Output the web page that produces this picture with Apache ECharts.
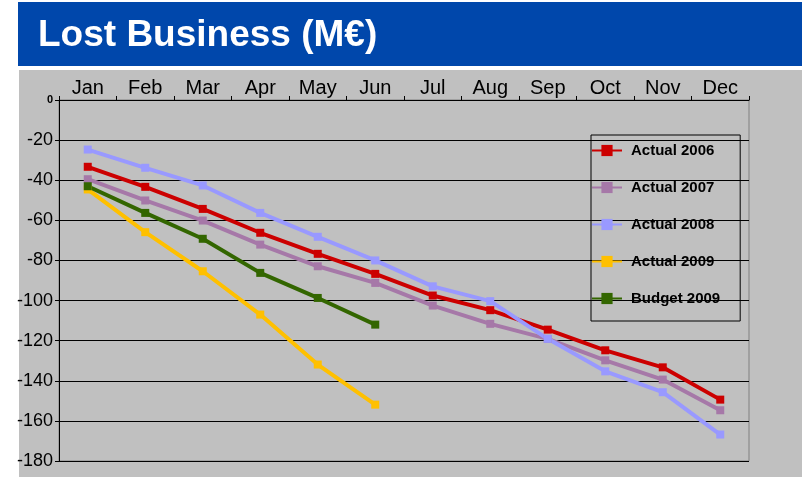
<!DOCTYPE html>
<html>
<head>
<meta charset="utf-8">
<script src="https://cdn.jsdelivr.net/npm/echarts@6/dist/echarts.min.js"></script>
<style>
  html, body { margin: 0; padding: 0; background: #fff; }
  #chart { width: 802px; height: 477px; }
</style>
</head>
<body>
<div id="chart"></div>
<script>
// categories
const months = ["Jan", "Feb", "Mar", "Apr", "May", "Jun", "Jul", "Aug", "Sep", "Oct", "Nov", "Dec"];

// series values (M€)
const actual2006 = [-33.3, -43.3, -54.3, -66.2, -76.7, -86.7, -97.5, -104.8, -114.5, -124.8, -133.3, -149.4];
const actual2007 = [-39.5, -50.1, -60.1, -72.1, -82.9, -91.2, -102.5, -111.6, -119.1, -129.8, -139.4, -154.7];
const actual2008 = [-24.7, -33.8, -42.6, -56.3, -68.2, -80.0, -92.9, -100.3, -119.1, -135.3, -145.7, -166.8];
const actual2009 = [-44.6, -65.9, -85.4, -107.0, -131.9, -151.9];
const budget2009 = [-43.0, -56.3, -69.2, -86.2, -98.7, -112.0];

// y axis
const yMin = -180;
const yMax = 0;
const yStep = 20;

const chart = echarts.init(document.getElementById("chart"));

// 一条线的公共配置
function lineSeries(name, data, color) {
  return {
    name: name,
    type: "line",
    data: data,
    symbol: "rect",
    symbolSize: 8,
    lineStyle: { width: 4, color: color },
    itemStyle: { color: color },
    z: 3,
  };
}

const option = {
  animation: false,
  textStyle: { fontFamily: "Liberation Sans, Arial, sans-serif" },

  // 标题栏和灰色背景
  graphic: [
    { type: "rect", z: -10, shape: { x: 18, y: 2, width: 784, height: 64 }, style: { fill: "#0047ab" } },
    { type: "rect", z: -10, shape: { x: 19, y: 70, width: 783, height: 407 }, style: { fill: "#c0c0c0" } },
    {
      type: "text", z: 10, left: 38, top: 17,
      style: { text: "Lost Business (M€)", fill: "#fff", font: "bold 37px 'Liberation Sans', Arial, sans-serif" },
    },
  ],

  grid: {
    left: 59, right: 53, top: 100, bottom: 16,
    show: true, borderColor: "#808080", borderWidth: 1, backgroundColor: "transparent",
  },

  legend: {
    orient: "vertical",
    left: 591, top: 135,
    borderColor: "#000", borderWidth: 1,
    padding: [8, 20, 15, 0],
    itemWidth: 30, itemHeight: 14, itemGap: 22,
    textStyle: {
      fontSize: 15, fontWeight: "bold", color: "#000",
      padding: [0, 0, 0, 4], width: 94,
    },
  },

  xAxis: {
    type: "category",
    position: "top",
    data: months,
    boundaryGap: true,
    axisLine: { lineStyle: { color: "#000", width: 1 } },
    axisTick: { show: true, length: 4, lineStyle: { color: "#000" } },
    axisLabel: { color: "#000", fontSize: 20, margin: 2, interval: 0 },
    splitLine: { show: false },
  },

  yAxis: {
    type: "value",
    min: yMin, max: yMax, interval: yStep,
    axisLine: { show: true, lineStyle: { color: "#000", width: 1 } },
    axisTick: { show: true, length: 4, lineStyle: { color: "#000" } },
    axisLabel: {
      color: "#000", fontSize: 18, margin: 6,
      formatter: function (v) { return v === 0 ? "{z|0}" : String(v); },
      rich: { z: { fontSize: 11, fontWeight: "bold", color: "#000" } },
    },
    splitLine: { show: true, lineStyle: { color: "#000", width: 1 } },
  },

  series: [
    lineSeries("Actual 2006", actual2006, "#cc0000"),
    lineSeries("Actual 2007", actual2007, "#a678a8"),
    lineSeries("Actual 2008", actual2008, "#9999ff"),
    lineSeries("Actual 2009", actual2009, "#ffc000"),
    lineSeries("Budget 2009", budget2009, "#336600"),
  ],
};

chart.setOption(option);
</script>
</body>
</html>
